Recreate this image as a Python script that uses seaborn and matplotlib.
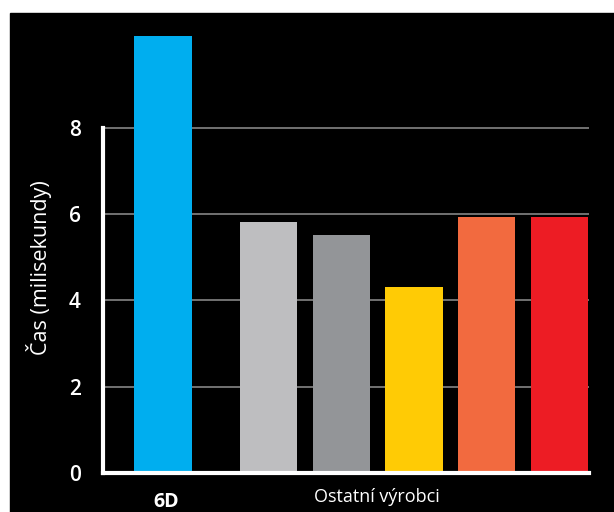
import matplotlib
matplotlib.use("Agg")
import matplotlib.pyplot as plt
import seaborn as sns
import pandas as pd
from matplotlib.patches import Rectangle

# ---- data ----
brands = ["6D", "Výrobce A", "Výrobce B", "Výrobce C", "Výrobce D", "Výrobce E"]
times = [10.14, 5.82, 5.52, 4.32, 5.94, 5.94]
bar_colors = ["#00AEEF", "#BEBEC0", "#939598", "#FFCB05", "#F26A3F", "#ED1C24"]
y_ticks = [0, 2, 4, 6, 8]
group_labels = ["6D", "Ostatní výrobci"]
y_label = "Čas (milisekundy)"

sns.set_theme(style="dark")
plt.rcParams["font.family"] = ["Open Sans", "DejaVu Sans"]

W, H = 614, 512
fig = plt.figure(figsize=(W / 100, H / 100), dpi=100)
fig.patch.set_facecolor("white")
fig.add_artist(Rectangle((10 / W, 0), (W - 10) / W, (H - 13) / H,
                         transform=fig.transFigure, color="black", zorder=0))

ax = fig.add_axes([103 / W, (H - 473) / H, (589 - 103) / W, (473 - 20) / H])
ax.set_facecolor("black")

# layout: first bar set apart from the rest
slot = [0, 1.45, 2.45, 3.45, 4.45, 5.45]
df = pd.DataFrame({"pos": slot, "time": times, "brand": brands})

sns.barplot(data=df, x="pos", y="time", hue="brand", palette=bar_colors,
            hue_order=brands, native_scale=True, dodge=False, width=0.79,
            legend=False, saturation=1, linewidth=0, ax=ax)

ax.set_xlim(-0.825, 5.856)
ax.set_ylim(0, 10.5)
ax.set_yticks(y_ticks)
ax.set_yticklabels([str(t) for t in y_ticks], color="white", fontsize=15,
                   fontweight="semibold")
ax.tick_params(axis="y", length=0, pad=16)
ax.set_xticks([])
ax.set_xlabel("")
ax.set_ylabel("")

ax.yaxis.grid(True, color="#7a7a7a", linewidth=1.3)
ax.xaxis.grid(False)
ax.set_axisbelow(True)

for s in ["top", "right"]:
    ax.spines[s].set_visible(False)
ax.spines["left"].set_color("white")
ax.spines["left"].set_linewidth(3)
ax.spines["left"].set_bounds(0, 8)
ax.spines["bottom"].set_color("white")
ax.spines["bottom"].set_linewidth(3)
ax.spines["left"].set_zorder(5)
ax.spines["bottom"].set_zorder(5)

# group labels under the axis
fig.text(166 / W, 1 - 492 / H, group_labels[0], color="white", fontsize=14,
         fontweight="bold", ha="center", va="top")
fig.text(377 / W, 1 - 488 / H, group_labels[1], color="white", fontsize=13,
         ha="center", va="top")

fig.text(39 / W, 1 - 268 / H, y_label, color="white", fontsize=15.5,
         rotation=90, ha="center", va="center")

fig.savefig("out.png", dpi=100, facecolor=fig.get_facecolor())
